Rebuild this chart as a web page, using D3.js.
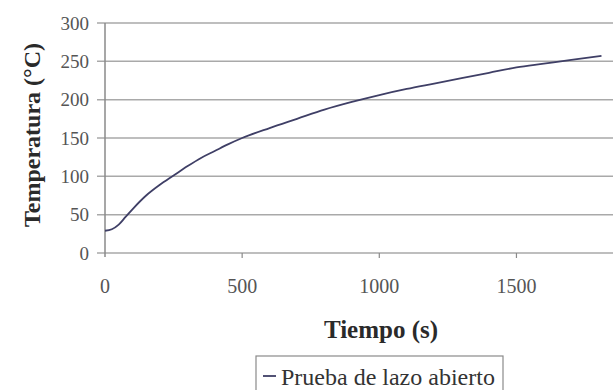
<!DOCTYPE html>
<html>
<head>
<meta charset="utf-8">
<script src="https://cdn.jsdelivr.net/npm/d3@7"></script>
<style>
  body { margin: 0; background: #fff; }
  svg { display: block; }
</style>
</head>
<body>
<div id="chart"></div>
<script>
// Tiempo (s) and temperatura (°C)
var tiempo = [0, 25, 50, 75, 100, 150, 200, 250, 300, 350, 400, 450, 500, 600, 700, 800, 900, 1000, 1100, 1200, 1300, 1400, 1500, 1600, 1700, 1810];
var temperatura = [29, 31, 37, 47, 57, 75, 89, 101, 113, 124, 133, 142, 150, 163, 175, 187, 197, 206, 214, 221, 228, 235, 242, 247, 252, 257];
var xTicks = [0, 500, 1000, 1500];
var yTicks = [0, 50, 100, 150, 200, 250, 300];
var seriesName = "Prueba de lazo abierto";

var serif = "'Liberation Serif', 'DejaVu Serif', serif";
var width = 614, height = 390;
var plotLeft = 105, plotRight = 613, plotTop = 23, plotBottom = 253;

var svg = d3.select("#chart").append("svg")
  .attr("width", width)
  .attr("height", height)
  .style("font-family", serif);

var x = d3.scaleLinear().domain([0, 1852]).range([plotLeft, plotRight]);
var y = d3.scaleLinear().domain([0, 300]).range([plotBottom, plotTop]);

// Horizontal gridlines
svg.append("g")
  .selectAll("line")
  .data(yTicks)
  .enter()
  .append("line")
  .attr("x1", plotLeft - 8)
  .attr("x2", plotRight)
  .attr("y1", function (d) { return y(d); })
  .attr("y2", function (d) { return y(d); })
  .attr("stroke", "#a9a9a9")
  .attr("stroke-width", 1.5);

// Y axis line
svg.append("line")
  .attr("x1", plotLeft).attr("x2", plotLeft)
  .attr("y1", plotTop).attr("y2", plotBottom + 4)
  .attr("stroke", "#8a8a8a")
  .attr("stroke-width", 1.5);

// X ticks
svg.append("g")
  .selectAll("line")
  .data(xTicks.slice(1))
  .enter()
  .append("line")
  .attr("x1", function (d) { return x(d); })
  .attr("x2", function (d) { return x(d); })
  .attr("y1", plotBottom)
  .attr("y2", plotBottom + 5)
  .attr("stroke", "#8a8a8a")
  .attr("stroke-width", 1.2);

// Y tick labels
svg.append("g")
  .selectAll("text")
  .data(yTicks)
  .enter()
  .append("text")
  .attr("x", 89)
  .attr("y", function (d) { return y(d); })
  .attr("dy", "0.35em")
  .attr("text-anchor", "end")
  .attr("font-size", "19px")
  .attr("fill", "#555")
  .text(function (d) { return d; });

// X tick labels
svg.append("g")
  .selectAll("text")
  .data(xTicks)
  .enter()
  .append("text")
  .attr("x", function (d) { return x(d); })
  .attr("y", 293)
  .attr("text-anchor", "middle")
  .attr("font-size", "20px")
  .attr("fill", "#555")
  .text(function (d) { return d; });

// Curve
var points = tiempo.map(function (t, i) { return [t, temperatura[i]]; });
var line = d3.line()
  .x(function (d) { return x(d[0]); })
  .y(function (d) { return y(d[1]); })
  .curve(d3.curveMonotoneX);

svg.append("path")
  .datum(points)
  .attr("d", line)
  .attr("fill", "none")
  .attr("stroke", "#3f3f66")
  .attr("stroke-width", 1.8);

// Axis titles
svg.append("text")
  .attr("transform", "translate(40,135) rotate(-90)")
  .attr("text-anchor", "middle")
  .attr("font-size", "24px")
  .attr("font-weight", "bold")
  .attr("fill", "#2a2a2a")
  .text("Temperatura (°C)");

svg.append("text")
  .attr("x", 381)
  .attr("y", 338)
  .attr("text-anchor", "middle")
  .attr("font-size", "25px")
  .attr("font-weight", "bold")
  .attr("fill", "#2a2a2a")
  .text("Tiempo (s)");

// Legend
var legend = svg.append("g");
legend.append("rect")
  .attr("x", 256)
  .attr("y", 356)
  .attr("width", 247)
  .attr("height", 40)
  .attr("fill", "#fff")
  .attr("stroke", "#8a8a8a")
  .attr("stroke-width", 1.2);
legend.append("line")
  .attr("x1", 263).attr("x2", 276)
  .attr("y1", 376).attr("y2", 376)
  .attr("stroke", "#3f3f66")
  .attr("stroke-width", 1.8);
legend.append("text")
  .attr("x", 281)
  .attr("y", 385)
  .attr("font-size", "24px")
  .attr("fill", "#333")
  .text(seriesName);
</script>
</body>
</html>
